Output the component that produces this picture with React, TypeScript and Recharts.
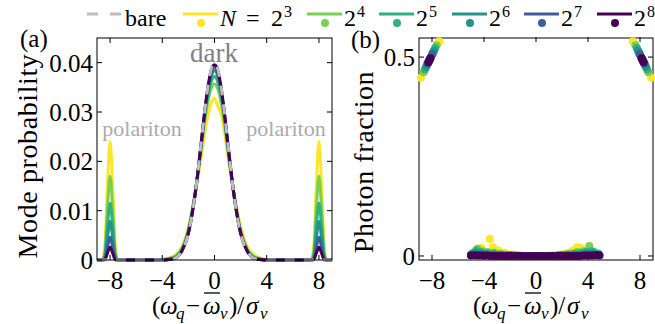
import React from 'react';
import { LineChart, Line, XAxis, YAxis, ReferenceLine } from 'recharts';

// energy grid (in units of sigma_v) for panel (a)
const energyGrid = [
  -9, -8.6, -8.4, -8.2, -8, -7.8, -7.6, -7.4,
  -5, -4, -3.5, -3, -2.5, -2, -1.5, -1,
  -0.75, -0.5, -0.25, 0, 0.25, 0.5, 0.75,
  1, 1.5, 2, 2.5, 3, 3.5, 4, 5,
  7.4, 7.6, 7.8, 8, 8.2, 8.4, 8.6, 9,
];

const bareProb = [
  0, 0, 0, 0, 0, 0, 0, 0,
  0, 0, 0.0001, 0.0004, 0.0018, 0.0054, 0.013, 0.0242,
  0.0301, 0.0352, 0.0387, 0.0399, 0.0387, 0.0352, 0.0301,
  0.0242, 0.013, 0.0054, 0.0018, 0.0004, 0.0001, 0, 0,
  0, 0, 0, 0, 0, 0, 0, 0,
];
const probN8 = [
  0, 0, 0.003, 0.015, 0.024, 0.015, 0.003, 0,
  0, 0.0001, 0.0004, 0.001, 0.0027, 0.0066, 0.0132, 0.0212,
  0.0258, 0.0293, 0.0318, 0.0328, 0.0312, 0.0296, 0.0262,
  0.0215, 0.0135, 0.0068, 0.0028, 0.0011, 0.0004, 0.0001, 0,
  0, 0.003, 0.015, 0.024, 0.015, 0.003, 0, 0,
];
const probN16 = [
  0, 0, 0.0015, 0.0105, 0.017, 0.0105, 0.0015, 0,
  0, 0.0001, 0.0003, 0.0008, 0.0023, 0.0062, 0.0133, 0.0228,
  0.0282, 0.0322, 0.0348, 0.0357, 0.0347, 0.032, 0.028,
  0.0226, 0.0132, 0.006, 0.0022, 0.0007, 0.0002, 0, 0,
  0, 0.0015, 0.0105, 0.017, 0.0105, 0.0015, 0, 0,
];
const probN32 = [
  0, 0, 0.0008, 0.007, 0.0115, 0.007, 0.0008, 0,
  0, 0, 0.0002, 0.0006, 0.002, 0.0058, 0.0132, 0.0235,
  0.0292, 0.0334, 0.0362, 0.0372, 0.0361, 0.0333, 0.029,
  0.0234, 0.0131, 0.0057, 0.002, 0.0006, 0.0002, 0, 0,
  0, 0.0008, 0.007, 0.0115, 0.007, 0.0008, 0, 0,
];
const probN64 = [
  0, 0, 0.0004, 0.0045, 0.0078, 0.0045, 0.0004, 0,
  0, 0, 0.0001, 0.0005, 0.0019, 0.0056, 0.0131, 0.0239,
  0.0297, 0.0342, 0.0372, 0.0384, 0.0372, 0.0341, 0.0296,
  0.0238, 0.013, 0.0055, 0.0019, 0.0005, 0.0001, 0, 0,
  0, 0.0004, 0.0045, 0.0078, 0.0045, 0.0004, 0, 0,
];
const probN128 = [
  0, 0, 0.0002, 0.0026, 0.0046, 0.0026, 0.0002, 0,
  0, 0, 0.0001, 0.0004, 0.0018, 0.0055, 0.013, 0.0241,
  0.03, 0.0348, 0.038, 0.0391, 0.0379, 0.0347, 0.0299,
  0.024, 0.013, 0.0055, 0.0018, 0.0004, 0.0001, 0, 0,
  0, 0.0002, 0.0026, 0.0046, 0.0026, 0.0002, 0, 0,
];
const probN256 = [
  0, 0, 0.0001, 0.0014, 0.0026, 0.0014, 0.0001, 0,
  0, 0, 0.0001, 0.0004, 0.0018, 0.0054, 0.013, 0.0242,
  0.0301, 0.0351, 0.0385, 0.0396, 0.0385, 0.0351, 0.03,
  0.0242, 0.013, 0.0054, 0.0018, 0.0004, 0.0001, 0, 0,
  0, 0.0001, 0.0014, 0.0026, 0.0014, 0.0001, 0, 0,
];

// panel (b): [energy, photon fraction]
const photonN8 = [
  [-8.85, 0.448], [-8.6, 0.465], [-8.35, 0.482], [-8.1, 0.5], [-7.85, 0.516], [-7.6, 0.532], [-7.45, 0.54],
  [7.45, 0.54], [7.6, 0.532], [7.85, 0.516], [8.1, 0.5], [8.35, 0.482], [8.6, 0.465], [8.85, 0.448],
  [-4.6, 0.012], [-4.2, 0.02], [-3.55, 0.043], [-3.3, 0.022], [-2.9, 0.014], [-2.4, 0.008], [-1.8, 0.004],
  [-1.1, 0.001], [-0.4, 0], [0.3, 0], [1.0, 0.001], [1.7, 0.003], [2.3, 0.007], [2.8, 0.013],
  [3.15, 0.022], [3.45, 0.02], [3.8, 0.014], [4.3, 0.01],
];
const photonN16 = [
  [-8.65, 0.462], [-8.4, 0.479], [-8.15, 0.496], [-7.9, 0.513], [-7.65, 0.53],
  [7.65, 0.53], [7.9, 0.513], [8.15, 0.496], [8.4, 0.479], [8.65, 0.462],
  [-4.85, 0.008], [-4.5, 0.018], [-4.1, 0.012], [-3.7, 0.01], [-3.2, 0.008], [-2.6, 0.005], [-2.0, 0.003],
  [-1.3, 0.001], [-0.6, 0], [0, 0], [0.6, 0], [1.3, 0.001], [2.0, 0.003], [2.6, 0.006],
  [3.2, 0.01], [3.7, 0.012], [4.1, 0.025], [4.5, 0.01], [4.8, 0.006],
];
const photonN32 = [
  [-8.55, 0.469], [-8.35, 0.482], [-8.15, 0.496], [-7.95, 0.509], [-7.75, 0.523],
  [7.75, 0.523], [7.95, 0.509], [8.15, 0.496], [8.35, 0.482], [8.55, 0.469],
  [-4.95, 0.004], [-4.6, 0.014], [-4.25, 0.01], [-3.8, 0.007], [-3.3, 0.006], [-2.8, 0.004], [-2.2, 0.002],
  [-1.5, 0.001], [-0.8, 0], [-0.2, 0], [0.4, 0], [1.1, 0], [1.8, 0.002], [2.4, 0.004],
  [3.0, 0.006], [3.5, 0.008], [3.9, 0.01], [4.3, 0.012], [4.7, 0.005],
];
const photonN64 = [
  [-8.45, 0.476], [-8.3, 0.486], [-8.15, 0.496], [-8.0, 0.506], [-7.85, 0.516],
  [7.85, 0.516], [8.0, 0.506], [8.15, 0.496], [8.3, 0.486], [8.45, 0.476],
  [-5.0, 0.003], [-4.7, 0.008], [-4.3, 0.007], [-3.9, 0.005], [-3.4, 0.004], [-2.9, 0.003], [-2.3, 0.002],
  [-1.7, 0.001], [-1.0, 0], [-0.3, 0], [0.4, 0], [1.0, 0], [1.7, 0.001], [2.3, 0.002],
  [2.9, 0.003], [3.4, 0.004], [3.9, 0.006], [4.4, 0.007], [4.8, 0.004],
];
const photonN128 = [
  [-8.35, 0.483], [-8.22, 0.491], [-8.1, 0.499], [-7.97, 0.508],
  [7.97, 0.508], [8.1, 0.499], [8.22, 0.491], [8.35, 0.483],
  [-5.0, 0.001], [-4.6, 0.004], [-4.2, 0.004], [-3.7, 0.003], [-3.2, 0.002], [-2.6, 0.001], [-2.0, 0.001],
  [-1.3, 0], [-0.6, 0], [0, 0], [0.6, 0], [1.3, 0], [2.0, 0.001], [2.6, 0.001],
  [3.2, 0.002], [3.7, 0.003], [4.2, 0.004], [4.6, 0.003], [4.9, 0.001],
];
const photonN256 = [
  [-8.28, 0.487], [-8.2, 0.492], [-8.12, 0.497],
  [8.12, 0.497], [8.2, 0.492], [8.28, 0.487],
  [-5.0, 0.002], [-4.7, 0.002], [-4.4, 0.001], [-4.1, 0.001], [-3.8, 0.001], [-3.5, 0], [-3.2, 0],
  [-2.9, 0], [-2.6, 0], [-2.3, 0], [-2.0, 0], [-1.7, 0], [-1.4, 0], [-1.1, 0], [-0.8, 0],
  [-0.5, 0], [-0.2, 0], [0.1, 0], [0.4, 0], [0.7, 0], [1.0, 0], [1.3, 0], [1.6, 0],
  [1.9, 0], [2.2, 0], [2.5, 0], [2.8, 0], [3.1, 0], [3.4, 0], [3.7, 0.001], [4.0, 0.001],
  [4.3, 0.001], [4.6, 0.002], [4.85, 0.002],
];

const exponents = ['3', '4', '5', '6', '7', '8'];
const seriesKeys = ['n8', 'n16', 'n32', 'n64', 'n128', 'n256'];
const seriesColors = ['#fde725', '#7ad151', '#2fb27c', '#1f968b', '#3b5e9e', '#440154'];
const probSeries = [probN8, probN16, probN32, probN64, probN128, probN256];
const photonSeries = [photonN8, photonN16, photonN32, photonN64, photonN128, photonN256];

const energyTicks = [-8, -4, 0, 4, 8];
const probTicks = [0, 0.01, 0.02, 0.03, 0.04];
const photonTicks = [0, 0.5];

const probData = energyGrid.map((x, i) => {
  const row: any = { x, bare: bareProb[i] };
  seriesKeys.forEach((k, j) => { row[k] = probSeries[j][i]; });
  return row;
});
const photonPoints = photonSeries.map((pts) => pts.map(([x, y]) => ({ x, y })));

// layout: both panels share one plot area (97..653 x 38..260)
const W = 655;
const H = 324;
const PLOT_L = 97;
const PLOT_R = 653;
const PLOT_T = 38;
const PLOT_B = 260;
const A_RIGHT = 332; // right edge of panel (a)
const B_LEFT = 419; // left edge of panel (b)

// each panel gets its own x axis whose domain puts [-9, 9] of that panel in place
const pxPerA = (A_RIGHT - PLOT_L) / 18;
const pxPerB = (PLOT_R - B_LEFT) / 18;
const xDomainA: [number, number] = [-9, -9 + (PLOT_R - PLOT_L) / pxPerA];
const xDomainB: [number, number] = [9 - (PLOT_R - PLOT_L) / pxPerB, 9];
const probY: [number, number] = [0, 0.045];
const photonY: [number, number] = [-0.0101, 0.548];
const TICK = 5;
const tickLenA = TICK / pxPerA;
const tickLenB = TICK / pxPerB;
const tickLenPhoton = (TICK * (photonY[1] - photonY[0])) / (PLOT_B - PLOT_T);

const serif = { fontFamily: 'Liberation Serif' };
const tickStyle = { fontSize: 25, fill: '#000', style: serif };
const fmtTick = (v: number) => (v < 0 ? '\u2212' + Math.abs(v) : String(v));
const noLabel = () => '';

const legendX = [183, 307, 379, 452, 524, 597];

const XTitle = ({ cx, base }: { cx: number; base: number }) => (
  <g>
    <text y={base} fontSize={25} fill="#000" style={serif}>
      <tspan x={cx - 64}>(</tspan>
      <tspan x={cx - 56} fontStyle="italic">ω</tspan>
      <tspan x={cx - 40} y={base + 5} fontStyle="italic" fontSize={17}>q</tspan>
      <tspan x={cx - 30} y={base}>−</tspan>
      <tspan x={cx - 13} fontStyle="italic">ω</tspan>
      <tspan x={cx + 4} y={base + 5} fontStyle="italic" fontSize={17}>v</tspan>
      <tspan x={cx + 13} y={base}>)/</tspan>
      <tspan x={cx + 30} fontStyle="italic">σ</tspan>
      <tspan x={cx + 44} y={base + 5} fontStyle="italic" fontSize={17}>v</tspan>
    </text>
    <line x1={cx - 12} x2={cx + 4} y1={base - 21} y2={base - 21} stroke="#000" strokeWidth={1.3} />
  </g>
);

const YTitle = ({ x, y, text }: { x: number; y: number; text: string }) => (
  <text transform={`translate(${x},${y}) rotate(-90)`} textAnchor="middle" fontSize={28} letterSpacing={0.6}
    fill="#000" style={serif}>{text}</text>
);

// panel frames, legend, panel letters, annotations and axis titles
const FigureText = () => (
  <g>
    <rect x={PLOT_L} y={PLOT_T} width={A_RIGHT - PLOT_L} height={PLOT_B - PLOT_T} fill="none" stroke="#000" />
    <rect x={B_LEFT} y={PLOT_T} width={PLOT_R - B_LEFT} height={PLOT_B - PLOT_T} fill="none" stroke="#000" />
    <line x1={87} y1={14} x2={122} y2={14} stroke="#bdbdbd" strokeWidth={3} strokeDasharray="11 12" />
    <text x={125} y={26} fontSize={24} fill="#000" style={serif}>bare</text>
    {exponents.map((e, i) => {
      const x0 = legendX[i];
      return (
        <g key={e}>
          <line x1={x0} y1={14} x2={x0 + 35} y2={14} stroke={seriesColors[i]} strokeWidth={3} />
          <circle cx={x0 + 18} cy={23} r={4} fill={seriesColors[i]} />
          {i === 0 ? (
            <text y={26} fontSize={24} fill="#000" style={serif}>
              <tspan x={220} fontStyle="italic">N</tspan>
              <tspan x={246}>=</tspan>
              <tspan x={271}>2</tspan>
              <tspan x={284} y={17} fontSize={16}>{e}</tspan>
            </text>
          ) : (
            <text y={26} fontSize={24} fill="#000" style={serif}>
              <tspan x={x0 + 37}>2</tspan>
              <tspan x={x0 + 50} y={17} fontSize={16}>{e}</tspan>
            </text>
          )}
        </g>
      );
    })}
    <text x={20} y={47} fontSize={25} fill="#000" style={serif}>(a)</text>
    <text x={351} y={48} fontSize={25} fill="#000" style={serif}>(b)</text>
    <text x={214} y={62} textAnchor="middle" fontSize={27} fill="#808080" style={serif}>dark</text>
    <text x={142} y={136} textAnchor="middle" fontSize={22} fill="#ababab" style={serif}>polariton</text>
    <text x={286} y={136} textAnchor="middle" fontSize={22} fill="#ababab" style={serif}>polariton</text>
    <YTitle x={37} y={156} text="Mode probability" />
    <YTitle x={373} y={162} text="Photon fraction" />
    <XTitle cx={216} base={314} />
    <XTitle cx={537} base={314} />
  </g>
);

const App: React.FC = () => (
  <div style={{ position: 'absolute', left: 0, top: 0, width: W, height: H, background: '#fff' }}>
    <LineChart width={W} height={H} data={probData}
      margin={{ top: PLOT_T - 2, right: W - PLOT_R - 2, bottom: 0, left: 0 }}>
      <XAxis xAxisId="ab" dataKey="x" type="number" domain={xDomainA} ticks={energyTicks} height={H - PLOT_B}
        stroke="#000" axisLine={false} tickSize={-TICK} tickMargin={16} tick={tickStyle} tickFormatter={fmtTick}
        label={<FigureText />} />
      <XAxis xAxisId="at" orientation="top" dataKey="x" type="number" domain={xDomainA} ticks={energyTicks}
        height={1} stroke="#000" axisLine={false} tickSize={-TICK} tickFormatter={noLabel} />
      <XAxis xAxisId="bt" orientation="top" dataKey="x" type="number" domain={xDomainB} ticks={energyTicks}
        height={1} stroke="#000" axisLine={false} tickSize={-TICK} tickFormatter={noLabel} />
      <YAxis yAxisId="a" type="number" domain={probY} ticks={probTicks} width={PLOT_L}
        stroke="#000" axisLine={false} tickSize={-TICK} tickMargin={9} tick={tickStyle} tickFormatter={fmtTick} />
      <YAxis yAxisId="b" orientation="right" type="number" domain={photonY} ticks={photonTicks} width={2}
        stroke="#000" axisLine={false} tickSize={-TICK} tickFormatter={noLabel} />

      {/* panel (a) right-side ticks */}
      {probTicks.map((t) => (
        <ReferenceLine key={`ar${t}`} xAxisId="ab" yAxisId="a" ifOverflow="visible" stroke="#000"
          segment={[{ x: 9 - tickLenA, y: t }, { x: 9, y: t }]} />
      ))}
      {/* panel (b) left ticks with labels */}
      {photonTicks.map((t) => (
        <ReferenceLine key={`bl${t}`} xAxisId="bt" yAxisId="b" ifOverflow="visible" stroke="#000"
          segment={[{ x: -9, y: t }, { x: -9 + tickLenB, y: t }]}
          label={{ value: fmtTick(t), position: 'left', offset: 4, fontSize: 25, fill: '#000', style: serif }} />
      ))}
      {/* panel (b) bottom ticks with labels */}
      {energyTicks.map((t) => (
        <ReferenceLine key={`bb${t}`} xAxisId="bt" yAxisId="b" ifOverflow="visible" stroke="#000"
          segment={[{ x: t, y: photonY[0] }, { x: t, y: photonY[0] + tickLenPhoton }]}
          label={{ value: fmtTick(t), position: 'bottom', offset: 11, fontSize: 25, fill: '#000', style: serif }} />
      ))}

      {/* helper series so every axis has data */}
      <Line xAxisId="at" yAxisId="a" dataKey="bare" stroke="none" dot={false} activeDot={false}
        isAnimationActive={false} />

      {/* panel (a): mode probability */}
      {seriesKeys.map((k, i) => (
        <Line key={k} xAxisId="ab" yAxisId="a" type="monotone" dataKey={k} stroke={seriesColors[i]}
          strokeWidth={3} dot={false} activeDot={false} isAnimationActive={false} />
      ))}
      <Line xAxisId="ab" yAxisId="a" type="monotone" dataKey="bare" stroke="#bdbdbd" strokeWidth={3}
        strokeDasharray="10 9" dot={false} activeDot={false} isAnimationActive={false} />

      {/* panel (b): photon fraction, points only */}
      {photonPoints.map((pts, i) => (
        <Line key={`p${seriesKeys[i]}`} xAxisId="bt" yAxisId="b" data={pts} dataKey="y" stroke="none"
          dot={{ r: 4, fill: seriesColors[i], stroke: 'none' }} activeDot={false} isAnimationActive={false} />
      ))}
    </LineChart>
  </div>
);

export default App;
